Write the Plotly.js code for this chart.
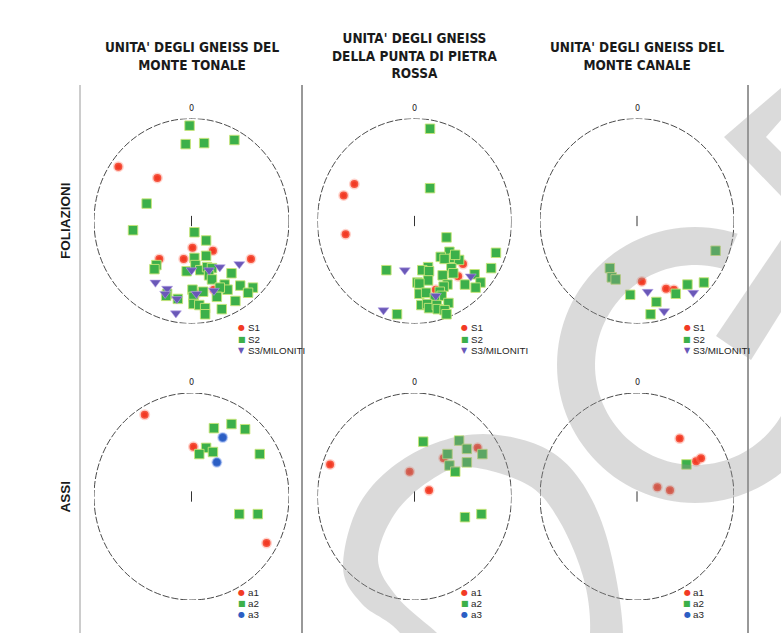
<!DOCTYPE html>
<html><head><meta charset="utf-8">
<script src="https://cdn.plot.ly/plotly-3.0.1.min.js"></script>
<style>html,body{margin:0;padding:0;background:#fff;}#chart{width:781px;height:633px;}</style>
</head><body><div id="chart"></div>
<script>
// ---------- texts ----------
const columnTitles = ["UNITA' DEGLI GNEISS DEL<br>MONTE TONALE",
                      "UNITA' DEGLI GNEISS<br>DELLA PUNTA DI PIETRA<br>ROSSA",
                      "UNITA' DEGLI GNEISS DEL<br>MONTE CANALE"];
const rowLabels = ["FOLIAZIONI", "ASSI"];
const folSeries = ["S1", "S2", "S3/MILONITI"];
const assiSeries = ["a1", "a2", "a3"];
const northLabel = "0";

// ---------- data (projected positions, unit circle; x = east, y = north) ----------
// Foliazioni - Monte Tonale
const tonaleS1X = [-0.75,-0.35,0.01,0.22,-0.33,-0.08,0.61,0.05,0.23];
const tonaleS1Y = [0.53,0.42,-0.26,-0.29,-0.37,-0.37,-0.37,-0.71,-0.67];
const tonaleS2X = [-0.02,-0.06,0.13,0.44,-0.46,-0.60,0.03,0.15,0.03,0.15,-0.36,-0.38,-0.05,0.04,0.09,0.16,0.21,0.18,0.21,0.41,0.34,0.37,0.29,0.50,0.63,0.58,0.45,0.01,0.12,0.02,0.26,-0.25,-0.14,0.02,0.08,0.14,0.14,0.31,-0.26];
const tonaleS2Y = [0.93,0.75,0.76,0.79,0.17,-0.09,-0.11,-0.19,-0.36,-0.34,-0.43,-0.47,-0.49,-0.43,-0.48,-0.45,-0.46,-0.53,-0.57,-0.51,-0.62,-0.67,-0.65,-0.63,-0.65,-0.70,-0.78,-0.67,-0.69,-0.74,-0.74,-0.71,-0.76,-0.81,-0.82,-0.85,-0.91,-0.86,-0.73];
const tonaleS3X = [-0.37,-0.25,-0.27,-0.15,-0.16,0.00,0.18,0.29,0.49,0.05,0.23];
const tonaleS3Y = [-0.60,-0.66,-0.71,-0.76,-0.90,-0.48,-0.48,-0.45,-0.42,-0.71,-0.68];
// Foliazioni - Punta di Pietra Rossa
const pietraS1X = [-0.62,-0.73,-0.71,0.50,0.45,0.22];
const pietraS1Y = [0.36,0.25,-0.13,-0.42,-0.54,-0.67];
const pietraS2X = [0.16,0.16,0.33,0.84,0.36,0.27,0.31,0.41,0.46,0.79,-0.29,0.14,0.08,0.15,0.38,0.40,0.29,0.62,0.14,0.03,0.05,0.34,0.30,0.52,0.68,0.63,0.05,0.12,0.26,0.28,0.21,0.07,0.13,0.15,0.23,0.24,0.35,0.31,0.33,-0.18,0.42];
const pietraS2Y = [0.90,0.32,-0.16,-0.31,-0.30,-0.35,-0.37,-0.36,-0.38,-0.46,-0.48,-0.45,-0.48,-0.49,-0.46,-0.51,-0.53,-0.52,-0.58,-0.60,-0.61,-0.62,-0.64,-0.62,-0.60,-0.65,-0.71,-0.70,-0.69,-0.73,-0.75,-0.82,-0.81,-0.85,-0.82,-0.86,-0.80,-0.87,-0.91,-0.91,-0.33];
const pietraS3X = [-0.10,0.58,0.22,-0.32];
const pietraS3Y = [-0.48,-0.54,-0.73,-0.87];
// Foliazioni - Monte Canale
const canaleS1X = [0.05,0.30,0.38];
const canaleS1Y = [-0.59,-0.66,-0.67];
const canaleS2X = [0.81,-0.28,-0.26,-0.22,-0.07,0.52,0.69,0.40,0.20,0.14];
const canaleS2Y = [-0.29,-0.46,-0.55,-0.57,-0.72,-0.62,-0.60,-0.71,-0.79,-0.91];
const canaleS3X = [0.11,0.58,0.28];
const canaleS3Y = [-0.69,-0.70,-0.88];
// Assi - Monte Tonale
const tonaleA1X = [-0.48,0.02,0.77];
const tonaleA1Y = [0.79,0.48,-0.45];
const tonaleA2X = [0.23,0.41,0.55,0.15,0.08,0.22,0.70,0.49,0.68];
const tonaleA2Y = [0.66,0.70,0.65,0.47,0.41,0.43,0.41,-0.17,-0.17];
const tonaleA3X = [0.32,0.26];
const tonaleA3Y = [0.57,0.33];
// Assi - Punta di Pietra Rossa
const pietraA1X = [-0.87,-0.05,0.30,0.65,0.15];
const pietraA1Y = [0.31,0.24,0.37,0.47,0.06];
const pietraA2X = [0.09,0.46,0.34,0.54,0.70,0.36,0.54,0.42,0.52,0.69];
const pietraA2Y = [0.53,0.54,0.41,0.46,0.41,0.30,0.33,0.24,-0.20,-0.17];
const pietraA3X = [];
const pietraA3Y = [];
// Assi - Monte Canale
const canaleA1X = [0.44,0.61,0.66,0.21,0.34];
const canaleA1Y = [0.56,0.34,0.37,0.09,0.06];
const canaleA2X = [0.51];
const canaleA2Y = [0.31];
const canaleA3X = [];
const canaleA3Y = [];

// ---------- styles ----------
const W = 781, H = 633;
const RED = '#f23a24', GREEN = '#3cb04a', PURPLE = '#6a58b8', BLUE = '#2b5ec4';
const styles = {
  S1: {symbol:'circle', color:RED, size:8, line:{color:'rgba(255,130,110,0.35)', width:3}, glyph:'●'},
  S2: {symbol:'square', color:GREEN, size:9.5, line:{color:'rgba(200,230,120,0.9)', width:1}, glyph:'■'},
  S3: {symbol:'triangle-down', color:PURPLE, size:9.5, line:{color:'rgba(180,160,230,0.6)', width:1}, glyph:'▼'},
  a1: {symbol:'circle', color:RED, size:8, line:{color:'rgba(255,130,110,0.35)', width:3}, glyph:'●'},
  a2: {symbol:'square', color:GREEN, size:9.5, line:{color:'rgba(200,230,120,0.9)', width:1}, glyph:'■'},
  a3: {symbol:'circle', color:BLUE, size:9, line:{color:'rgba(140,170,240,0.5)', width:2}, glyph:'●'}
};
const TEXT_FONT = 'Liberation Sans, Arial, sans-serif';
const NARROW_FONT = 'Liberation Sans Narrow, Arial Narrow, DejaVu Sans Condensed, sans-serif';

// panel boxes (pixel layout of each net)
const topCY = 221, topRY = 102.5, botCY = 496.5, botRY = 103.5;
const colCX = [191.5, 414.5, 637], colRX = [97.5, 97, 97];

const panels = [
  {col:0, row:0, names:folSeries, keys:['S1','S2','S3'], xs:[tonaleS1X,tonaleS2X,tonaleS3X], ys:[tonaleS1Y,tonaleS2Y,tonaleS3Y]},
  {col:1, row:0, names:folSeries, keys:['S1','S2','S3'], xs:[pietraS1X,pietraS2X,pietraS3X], ys:[pietraS1Y,pietraS2Y,pietraS3Y]},
  {col:2, row:0, names:folSeries, keys:['S1','S2','S3'], xs:[canaleS1X,canaleS2X,canaleS3X], ys:[canaleS1Y,canaleS2Y,canaleS3Y]},
  {col:0, row:1, names:assiSeries, keys:['a1','a2','a3'], xs:[tonaleA1X,tonaleA2X,tonaleA3X], ys:[tonaleA1Y,tonaleA2Y,tonaleA3Y]},
  {col:1, row:1, names:assiSeries, keys:['a1','a2','a3'], xs:[pietraA1X,pietraA2X,pietraA3X], ys:[pietraA1Y,pietraA2Y,pietraA3Y]},
  {col:2, row:1, names:assiSeries, keys:['a1','a2','a3'], xs:[canaleA1X,canaleA2X,canaleA3X], ys:[canaleA1Y,canaleA2Y,canaleA3Y]}
];

const traces = [];
const layout = {
  width: W, height: H, margin:{l:0,r:0,t:0,b:0},
  paper_bgcolor:'#ffffff', plot_bgcolor:'rgba(0,0,0,0)',
  showlegend:false, shapes:[], annotations:[]
};

panels.forEach((p, i) => {
  const n = i + 1, sfx = n === 1 ? '' : String(n);
  const cx = colCX[p.col], rx = colRX[p.col];
  const cy = p.row === 0 ? topCY : botCY, ry = p.row === 0 ? topRY : botRY;
  layout['xaxis' + sfx] = {domain:[(cx-rx)/W, (cx+rx)/W], range:[-1,1], visible:false, fixedrange:true, anchor:'y'+sfx};
  layout['yaxis' + sfx] = {domain:[1-(cy+ry)/H, 1-(cy-ry)/H], range:[-1,1], visible:false, fixedrange:true, anchor:'x'+sfx};
  const xr = 'x' + sfx, yr = 'y' + sfx;
  layout.shapes.push({type:'circle', xref:xr, yref:yr, x0:-1, x1:1, y0:-1, y1:1,
    line:{color:'#1a1a1a', width:0.8, dash:'7px,2px'}, layer:'below'});
  [[1,1.055],[-0.05,0.05],[-1,-1.055]].forEach(t => layout.shapes.push({type:'line', xref:xr, yref:yr,
    x0:0, x1:0, y0:t[0], y1:t[1], line:{color:'#333', width:1}, layer:'below'}));
  layout.annotations.push({xref:xr, yref:yr, x:0, y:1, yshift:11, text:northLabel, showarrow:false,
    font:{family:NARROW_FONT, size:9, color:'#222'}});
  p.keys.forEach((k, j) => {
    const s = styles[k];
    traces.push({type:'scatter', mode:'markers', x:p.xs[j], y:p.ys[j], xaxis:xr, yaxis:yr,
      name:p.names[j], cliponaxis:false, hoverinfo:'skip',
      marker:{symbol:s.symbol, color:s.color, size:s.size, line:s.line}});
  });
  const rowY = p.row === 0 ? [327, 339, 350] : [592, 603, 614];
  p.keys.forEach((k, j) => {
    const s = styles[k];
    layout.annotations.push({xref:'paper', yref:'paper', x:(cx+50)/W, y:1-rowY[j]/H, xanchor:'center', yanchor:'middle',
      text:s.glyph, showarrow:false, font:{family:'DejaVu Sans, sans-serif', size:8, color:s.color}});
    layout.annotations.push({xref:'paper', yref:'paper', x:(cx+54)/W, y:1-rowY[j]/H, xanchor:'left', yanchor:'middle',
      text:p.names[j], showarrow:false, font:{family:TEXT_FONT, size:9.8, color:'#1e1e1e'}});
  });
});

columnTitles.forEach((t, c) => layout.annotations.push({xref:'paper', yref:'paper', x:colCX[c]/W, y:1-56/H,
  xanchor:'center', yanchor:'middle', text:t, showarrow:false,
  font:{family:NARROW_FONT, size:13.5, color:'#1a1a1a', weight:'bold'}}));
rowLabels.forEach((t, r) => layout.annotations.push({xref:'paper', yref:'paper', x:65/W, y:1-(r===0?topCY:botCY)/H,
  xanchor:'center', yanchor:'middle', textangle:-90, text:t, showarrow:false,
  font:{family:TEXT_FONT, size:13.5, color:'#1a1a1a', weight:'bold'}}));

[[80,'#9a9a9a'],[302,'#333'],[748,'#333']].forEach(v => layout.shapes.push({type:'line', xref:'paper', yref:'paper',
  x0:v[0]/W, x1:v[0]/W, y0:0, y1:1-85/H, line:{color:v[1], width:1}}));

// ---------- watermark (decoration in pixel space) ----------
const P = (x, y) => (x/W).toFixed(5) + ',' + (1-y/H).toFixed(5);
function closedSpline(pts, steps) {
  const out = [], n = pts.length;
  for (let i = 0; i < n; i++) {
    const p0 = pts[(i-1+n)%n], p1 = pts[i], p2 = pts[(i+1)%n], p3 = pts[(i+2)%n];
    for (let s = 0; s < steps; s++) {
      const t = s/steps, t2 = t*t, t3 = t2*t;
      out.push([0,1].map(k => 0.5*((2*p1[k]) + (-p0[k]+p2[k])*t + (2*p0[k]-5*p1[k]+4*p2[k]-p3[k])*t2 + (-p0[k]+3*p1[k]-3*p2[k]+p3[k])*t3)));
    }
  }
  return out;
}
const pathOf = pts => 'M' + pts.map(p => P(p[0], p[1])).join('L') + 'Z';
const WM = 'rgba(150,150,150,0.35)';
const ringOuter = [[343,567],[360,503],[405,458],[467,435],[530,442],[574,472],[606,535],[623,633],[612,700],[540,725],[445,700],[400,633],[362,604]];
const ringInner = [[378,560],[394,515],[428,482],[467,467],[528,485],[560,522],[584,580],[590,633],[580,668],[520,680],[465,662],[437,633],[398,598]];
layout.shapes.push({type:'path', xref:'paper', yref:'paper', layer:'above', fillrule:'evenodd',
  path: pathOf(closedSpline(ringOuter, 12)) + ' ' + pathOf(closedSpline(ringInner, 12).reverse()),
  fillcolor:WM, line:{width:0}});
(function(){
  const cx = 695, cy = 365, ro = 138, ri = 100, a0 = -72, a1 = -335, pts = [];
  for (let a = a0; a >= a1; a -= 3) pts.push([cx + ro*Math.cos(a*Math.PI/180), cy + ro*Math.sin(a*Math.PI/180)]);
  for (let a = a1; a <= a0; a += 3) pts.push([cx + ri*Math.cos(a*Math.PI/180), cy + ri*Math.sin(a*Math.PI/180)]);
  layout.shapes.push({type:'path', xref:'paper', yref:'paper', layer:'above', path:pathOf(pts), fillcolor:WM, line:{width:0}});
})();
layout.shapes.push({type:'path', xref:'paper', yref:'paper', layer:'above',
  path:pathOf([[724,137],[781,88],[781,120],[766,137],[781,152],[781,196]]), fillcolor:WM, line:{width:0}});
layout.shapes.push({type:'path', xref:'paper', yref:'paper', layer:'above',
  path:pathOf([[781,240],[781,312],[751,360],[716,336]]), fillcolor:WM, line:{width:0}});

Plotly.newPlot('chart', traces, layout, {staticPlot:true, displayModeBar:false});
</script></body></html>
